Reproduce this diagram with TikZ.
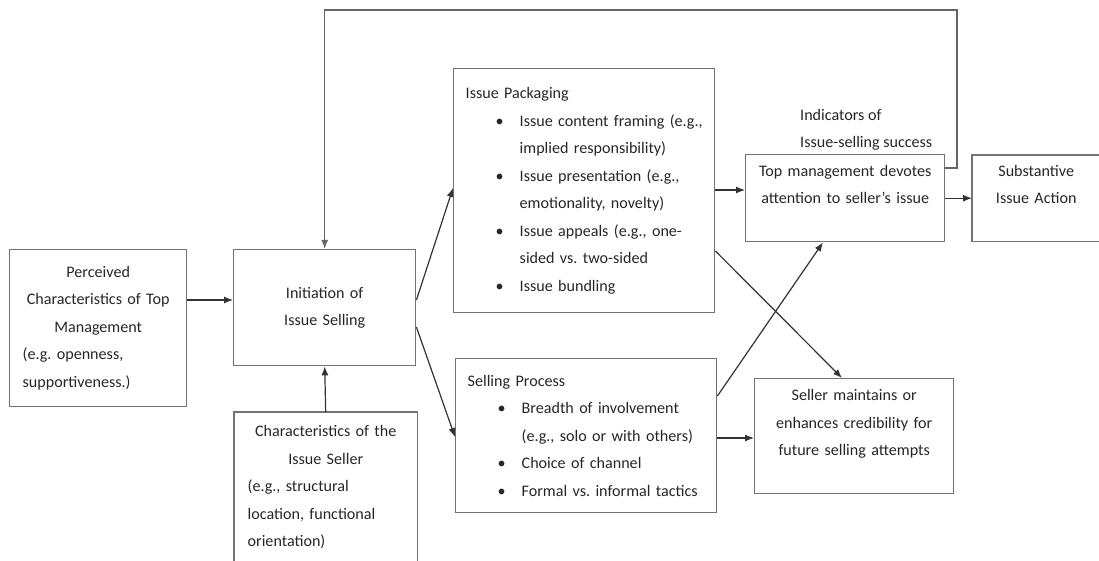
\documentclass[tikz,border=0pt]{standalone}
\usepackage{fontspec}
\setmainfont{Carlito}
\usetikzlibrary{arrows.meta, positioning}
\setlength{\parindent}{0pt}
\frenchspacing
\newcommand\dfont{\fontsize{16.1pt}{27.5pt}\selectfont}
\newcommand\ctrline[1]{\makebox[\hsize]{#1}}
\newcommand\pitem[1]{\par\noindent\hangindent=54pt\hangafter=1%
  \makebox[54pt][l]{\hspace{30pt}\textbullet}#1}
\tikzset{
  box/.style   = {draw=black!55, line width=1.4pt, text=black!85, font=\dfont,
                  align=center, inner xsep=8pt, inner ysep=0pt, anchor=north west},
  lst/.style   = {box, align=left, inner xsep=12pt},
  mix/.style   = {box, align=left, inner xsep=13pt},
  open/.style  = {draw=none},
  side/.style  = {draw=black!55, line width=1.4pt},
  flow/.style  = {-{Latex[length=9pt, width=7pt]}, line width=1.2pt, black!80},
  back/.style  = {flow, black!60, line width=1.4pt},
  lbl/.style   = {font=\dfont, text=black!85, align=left, inner sep=0pt, anchor=west},
}

\begin{document}
\begin{tikzpicture}[x=1pt, y=-1pt]
    \useasboundingbox (0,0) rectangle (1099,561);

    \node[mix, text width=151pt, minimum height=157pt] (perc) at (9,249)
      {\ctrline{Perceived}\\\ctrline{Characteristics of Top}\\\ctrline{Management}\\
       (e.g. openness,\\supportiveness.)};
    \node[box, text width=166pt, minimum height=116pt] (init) at (233,249)
      {Initiation of\\Issue Selling};
    \node[mix, open, text width=156pt, minimum height=149pt] (isel) at (234,412)
      {\ctrline{Characteristics of the}\\\ctrline{Issue Seller}\\
       (e.g., structural\\location, functional\\orientation)};
    \draw[side] (isel.south west) -- (isel.north west) -- (isel.north east) -- (isel.south east);

    \node[lst, text width=237pt, minimum height=244pt] (pack) at (453,68)
      {Issue Packaging
       \pitem{Issue content framing (e.g.,\newline implied responsibility)}
       \pitem{Issue presentation (e.g.,\newline emotionality, novelty)}
       \pitem{Issue appeals (e.g., one-\newline sided vs. two-sided}
       \pitem{Issue bundling}};
    \node[lst, text width=237pt, minimum height=154pt] (sell) at (455,358)
      {Selling Process
       \pitem{Breadth of involvement\newline (e.g., solo or with others)}
       \pitem{Choice of channel}
       \pitem{Formal vs. informal tactics}};

    \node[lbl] (ind) at (800,130) {Indicators of\\Issue-selling success};
    \node[box, text width=183pt, minimum height=87pt] (top) at (745,154)
      {Top management devotes\\attention to seller's issue\\\mbox{}};
    \node[box, open, text width=111pt, minimum height=85pt] (sub) at (972,155)
      {Substantive\\Issue Action\\\mbox{}};
    \draw[side] (sub.north east) -- (sub.north west) -- (sub.south west) -- (sub.south east);
    \node[box, text width=183pt, minimum height=115pt] (smain) at (754,378)
      {Seller maintains or\\enhances credibility for\\future selling attempts\\\mbox{}};

    % inputs to initiation
    \draw[flow] (perc.east |- 0,300) -- (init.west |- 0,300);
    \draw[flow] (isel.north) -- (init.south);
    \coordinate (fb) at (957,10);
    \draw[back] (top.east |- 0,168) -| (fb) -| (init.north);

    % initiation to the two tactics
    \draw[flow] (init.east |- 0,300) -- (pack.west |- 0,188);
    \draw[flow] (init.east |- 0,327) -- (sell.west |- 0,437);

    % tactics to outcomes
    \draw[flow] (pack.east |- 0,190) -- (top.west |- 0,190);
    \draw[flow] (pack.east |- 0,251) -- (smain.north -| 842,0);
    \draw[flow] (sell.east |- 0,396) -- (top.south -| 823,0);
    \draw[flow] (sell.east |- 0,438) -- (smain.west |- 0,438);
    \draw[flow] (top.east) -- (sub.west |- top.east);
  \end{tikzpicture}
\end{document}
